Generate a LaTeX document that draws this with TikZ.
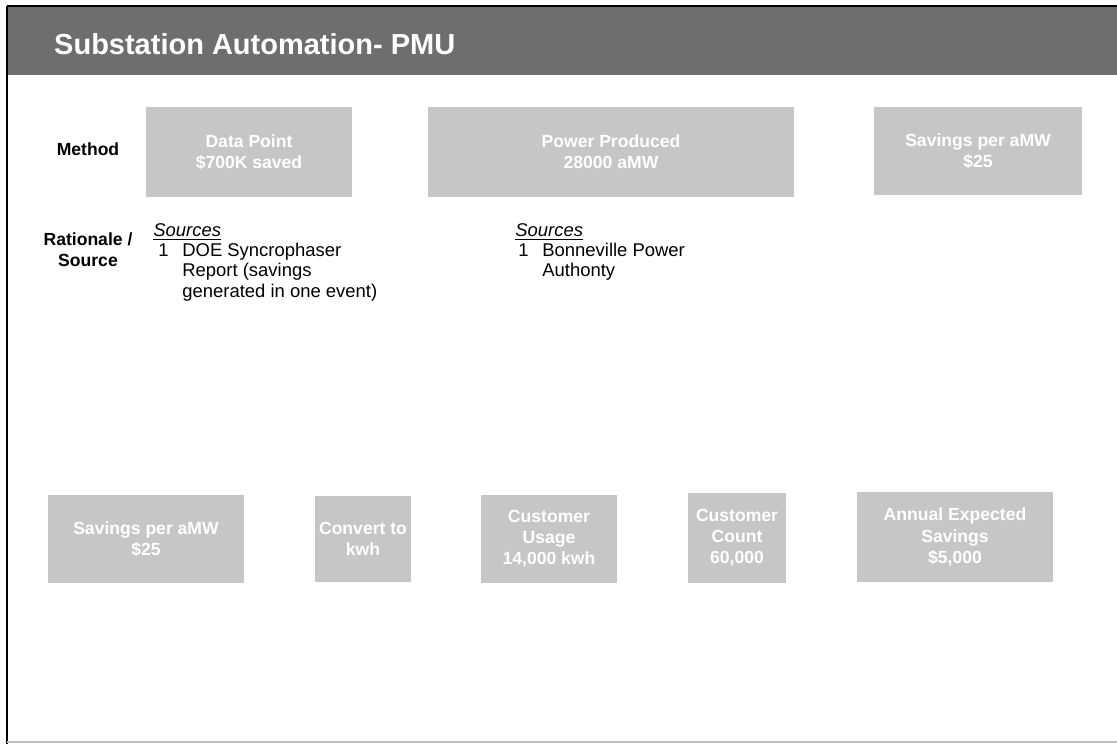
\documentclass[tikz,border=0pt]{standalone}
\usepackage{fontspec}
\setmainfont{Liberation Sans}
\definecolor{hdrgray}{HTML}{6E6E6E}
\definecolor{boxgray}{HTML}{C6C6C6}

\begin{document}
\begin{tikzpicture}[x=0.02cm,y=-0.02cm,
  box/.style={fill=boxgray,text=white,font=\fontsize{10}{12}\selectfont\bfseries,align=center,inner sep=1pt},
  lbl/.style={font=\fontsize{10}{12}\selectfont\bfseries,align=center},
  src/.style={font=\fontsize{10.5}{11.5}\selectfont,anchor=north west,align=left,inner sep=0pt}]
\useasboundingbox (0,0) rectangle (1117,744);
\fill[hdrgray] (7,6) rectangle (1117,75);
\draw[line width=1pt] (7,6) -- (1117,6);
\draw[line width=1.2pt] (7,6) -- (7,744);
\draw[gray!50,line width=1pt] (7,742) -- (1117,742);
\node[anchor=west,text=white,font=\fontsize{16.5}{19}\selectfont\bfseries] (title) at (48,44) {Substation Automation- PMU};

\node[lbl] (method) at (88,149) {Method};
\node[lbl] (rat) at (88,250) {Rationale /\\Source};

\node[box,minimum width=4.12cm,minimum height=1.8cm] (dp) at (249,152) {Data Point\\\$700K saved};
\node[box,minimum width=7.32cm,minimum height=1.8cm] (pp) at (611,152) {Power Produced\\28000 aMW};
\node[box,minimum width=4.18cm,minimum height=1.76cm] (sv) at (978,151) {Savings per aMW\\\$25};

\node[src] (src1) at (153,223) {\underline{\textit{Sources}}};
\node[src] (n1) at (158,243) {1};
\node[src] (t1) at (182,243) {DOE Syncrophaser\\Report (savings\\generated in one event)};
\node[src] (src2) at (515,223) {\underline{\textit{Sources}}};
\node[src] (n2) at (518,243) {1};
\node[src] (t2) at (542,243) {Bonneville Power\\Authonty};

\node[box,minimum width=3.94cm,minimum height=1.76cm] (sv2) at (146,539) {Savings per aMW\\\$25};
\node[box,minimum width=1.94cm,minimum height=1.74cm] (kwh) at (363,539) {Convert to\\kwh};
\node[box,minimum width=2.74cm,minimum height=1.76cm] (use) at (549,539) {Customer\\Usage\\14,000 kwh};
\node[box,minimum width=1.98cm,minimum height=1.8cm] (cnt) at (737,538) {Customer\\Count\\60,000};
\node[box,minimum width=3.92cm,minimum height=1.8cm] (ann) at (955,537) {Annual Expected\\Savings\\\$5,000};
\end{tikzpicture}
\end{document}
